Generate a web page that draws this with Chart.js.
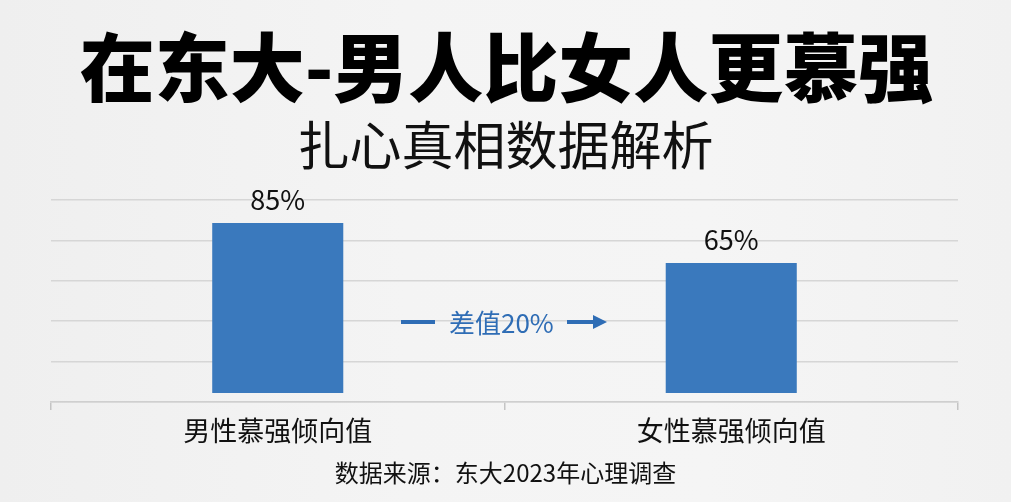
<!DOCTYPE html>
<html lang="zh-CN">
<head>
<meta charset="utf-8">
<script src="https://cdn.jsdelivr.net/npm/chart.js@4.4.1/dist/chart.umd.min.js"></script>
<style>
  html, body { margin: 0; padding: 0; }
  body { width: 1011px; height: 502px; overflow: hidden; position: relative;
         background: linear-gradient(90deg, #efefef 0%, #f4f4f4 40%, #f5f5f5 70%, #f1f1f1 100%);
         font-family: "Noto Sans CJK SC", "Noto Sans", sans-serif; }
  #wrap { position: absolute; left: 0; top: 0; width: 1011px; height: 502px; }
  .t { position: absolute; left: 0; width: 1011px; text-align: center; white-space: nowrap; color: #000; }
  #title { top: 26px; left: 1px; font-size: 75px; line-height: 75px; font-weight: 900; }
  #subtitle { top: 117px; font-size: 52px; line-height: 52px; font-weight: 400; color: #111; }
  #footer { top: 460px; font-size: 24px; line-height: 24px; color: #111; }
  #diff { position: absolute; left: 401px; top: 309px; height: 26px; display: flex; align-items: center; color: #2f6db5; }
  #diff .bar { width: 34px; height: 4px; background: #2f6db5; }
  #diff .txt { font-size: 26px; line-height: 26px; margin: 0 13px 0 14px; }
  #diff .shaft { width: 26px; height: 4px; background: #2f6db5; }
  #diff .head { width: 0; height: 0; border-top: 7px solid transparent; border-bottom: 7px solid transparent; border-left: 14px solid #2f6db5; }
</style>
</head>
<body>
<div id="wrap"><canvas id="c" width="1011" height="502"></canvas></div>
<div class="t" id="title">在东大-男人比女人更慕强</div>
<div class="t" id="subtitle">扎心真相数据解析</div>
<div id="diff"><div class="bar"></div><div class="txt" id="diffText"></div><div class="shaft"></div><div class="head"></div></div>
<div class="t" id="footer">数据来源：东大2023年心理调查</div>
<script>
const categories = ["男性慕强倾向值", "女性慕强倾向值"];
const values = [85, 65];
const valueSuffix = "%";
const diffLabel = "差值";

document.getElementById("diffText").textContent = diffLabel + (values[0] - values[1]) + valueSuffix;

const valueLabels = {
  id: "valueLabels",
  afterDatasetsDraw(chart) {
    const ctx = chart.ctx;
    const meta = chart.getDatasetMeta(0);
    ctx.save();
    ctx.font = '400 27px "Noto Sans CJK SC", "Noto Sans", sans-serif';
    ctx.fillStyle = "#111";
    ctx.textAlign = "center";
    ctx.textBaseline = "middle";
    meta.data.forEach((bar, i) => {
      ctx.fillText(values[i] + valueSuffix, bar.x, bar.y - 23);
    });
    ctx.restore();
  }
};

Chart.defaults.font.family = '"Noto Sans CJK SC", "Noto Sans", sans-serif';

new Chart(document.getElementById("c"), {
  type: "bar",
  data: {
    labels: categories,
    datasets: [{
      data: values,
      backgroundColor: "#3a79bd",
      borderWidth: 0,
      categoryPercentage: 0.578,
      barPercentage: 0.5
    }]
  },
  options: {
    responsive: false,
    animation: false,
    devicePixelRatio: 1,
    layout: { padding: { left: 51, right: 53, top: 200, bottom: 0 } },
    plugins: { legend: { display: false }, tooltip: { enabled: false }, title: { display: false } },
    scales: {
      x: {
        afterFit(scale) { scale.height = 100; },
        grid: { drawOnChartArea: false, drawTicks: true, tickLength: 8, color: "#c4c4c4", lineWidth: 1.5, offset: true },
        border: { display: true, color: "#cfcfcf", width: 1.5 },
        ticks: { color: "#111", font: { size: 27 }, padding: 5 }
      },
      y: {
        min: -4.5,
        max: 96.5,
        afterFit(scale) { scale.width = 0; },
        afterBuildTicks(scale) {
          const n = 5, step = (scale.max - scale.min) / n;
          const t = [];
          for (let i = 0; i <= n; i++) t.push({ value: scale.min + i * step });
          scale.ticks = t;
        },
        grid: { color: "#d6d6d6", lineWidth: 1.5, drawTicks: false },
        border: { display: false },
        ticks: { display: false }
      }
    }
  },
  plugins: [valueLabels]
});
</script>
</body>
</html>
